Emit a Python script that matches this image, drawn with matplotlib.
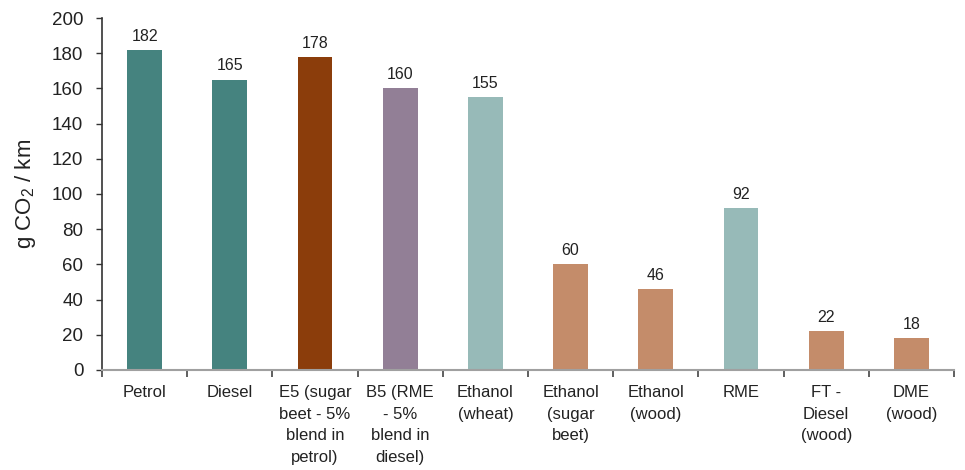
import matplotlib
matplotlib.use("Agg")
import matplotlib.pyplot as plt
import numpy as np

categories = ["Petrol", "Diesel", "E5 (sugar\nbeet - 5%\nblend in\npetrol)", "B5 (RME\n- 5%\nblend in\ndiesel)",
              "Ethanol\n(wheat)", "Ethanol\n(sugar\nbeet)", "Ethanol\n(wood)", "RME", "FT -\nDiesel\n(wood)", "DME\n(wood)"]
values = [182, 165, 178, 160, 155, 60, 46, 92, 22, 18]
colors = ["#45837F", "#45837F", "#8B3D0B", "#927F96", "#97BAB8", "#C48C6A", "#C48C6A", "#97BAB8", "#C48C6A", "#C48C6A"]

plt.rcParams['font.family'] = ['Liberation Sans', 'DejaVu Sans']
plt.rcParams['mathtext.fontset'] = 'custom'
plt.rcParams['mathtext.rm'] = 'Liberation Sans'
plt.rcParams['mathtext.it'] = 'Liberation Sans'

fig = plt.figure(figsize=(9.65, 4.7), dpi=100)
ax = fig.add_axes([0.1057, 0.2128, 0.8829, 0.7489])

x = np.arange(len(values))
ax.bar(x, values, width=0.41, color=colors, zorder=2)
for xi, v in zip(x, values):
    ax.text(xi, v + 3.5, str(v), ha='center', va='bottom', fontsize=11.5, color='#222222')

ax.set_xlim(-0.5, len(values) - 0.5)
ax.set_ylim(0, 200)
ax.set_yticks(np.arange(0, 201, 20))
ax.tick_params(axis='y', labelsize=13.5, length=4.5, width=1, color='#333333', labelcolor='#222222', pad=9)

ax.set_xticks(x)
ax.set_xticklabels(categories, fontsize=12, color='#222222', linespacing=1.55, va='top')
ax.tick_params(axis='x', which='major', length=0, pad=11)
ax.set_xticks(np.arange(-0.5, len(values), 1), minor=True)
ax.tick_params(axis='x', which='minor', length=5, width=1.2, color='#444444', direction='out')

for s in ['top', 'right']:
    ax.spines[s].set_visible(False)
ax.spines['left'].set_color('#333333')
ax.spines['left'].set_linewidth(1.2)
ax.spines['bottom'].set_color('#A0A0A0')
ax.spines['bottom'].set_linewidth(1.5)

ax.set_ylabel(r'g CO$_2$ / km', fontsize=16, color='#222222', labelpad=10)

fig.savefig("out.png", dpi=100)
